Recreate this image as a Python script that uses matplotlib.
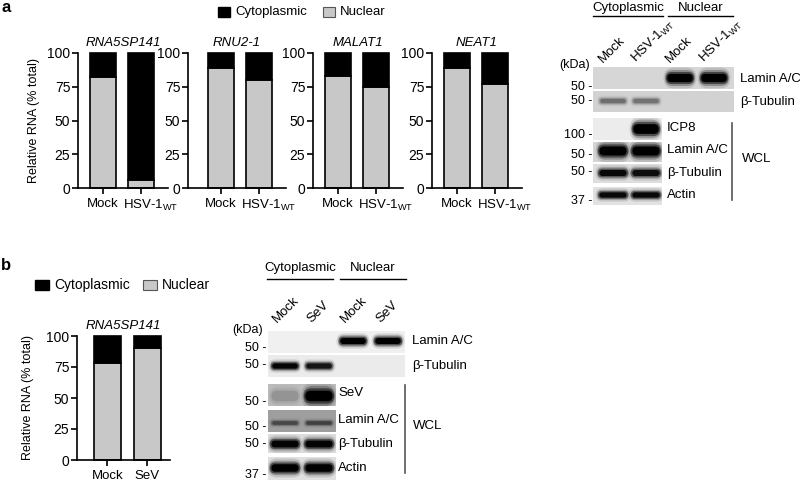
import numpy as np
import matplotlib
matplotlib.use('Agg')
import matplotlib.pyplot as plt
from matplotlib.patches import Rectangle, FancyBboxPatch
from matplotlib.transforms import ScaledTranslation

plt.rcParams['font.family'] = ['Liberation Sans', 'DejaVu Sans']
plt.rcParams['mathtext.default'] = 'regular'

# ---- bar chart data (% nuclear; cytoplasmic = 100 - nuclear) ----
genes_a = ['RNA5SP141', 'RNU2-1', 'MALAT1', 'NEAT1']
groups_a = ['Mock', 'HSV-1$_{WT}$']
nuclear_a = [[82, 6], [89, 80], [83, 75], [89, 77]]

gene_b = 'RNA5SP141'
groups_b = ['Mock', 'SeV']
nuclear_b = [78, 90]

# ---- western blot band intensities (0 = none, 1 = saturated) ----
lanes_a = ['Mock', 'HSV-1$_{WT}$', 'Mock', 'HSV-1$_{WT}$']
frac_lamin_a = [0, 0, 1, 1]
frac_tub_a = [0.3, 0.28, 0, 0]
wcl_icp8_a = [0, 1]
wcl_lamin_a = [1, 1]
wcl_tub_a = [0.9, 0.85]
wcl_actin_a = [0.9, 0.9]

lanes_b = ['Mock', 'SeV', 'Mock', 'SeV']
frac_lamin_b = [0, 0, 1, 1]
frac_tub_b = [0.95, 0.8, 0, 0]
wcl_sev_b = [0.12, 1]
wcl_lamin_b = [0.35, 0.4]
wcl_tub_b = [0.95, 0.95]
wcl_actin_b = [1, 1]

W, H = 800, 482
fig = plt.figure(figsize=(8, 4.82), dpi=100)

# overlay in pixel coordinates for blots and annotations
ov = fig.add_axes([0, 0, 1, 1])
ov.set_xlim(0, W)
ov.set_ylim(H, 0)
ov.axis('off')

NUC = '#c8c8c8'


def px_axes(x0, y0, x1, y1):
    return fig.add_axes([x0 / W, 1 - y1 / H, (x1 - x0) / W, (y1 - y0) / H])


def bar_panel(ax, nuc, groups, title, xlim):
    x = np.arange(len(nuc))
    cyto = [100 - v for v in nuc]
    ax.bar(x, nuc, 0.68, color=NUC, edgecolor='black', lw=1.2, clip_on=False)
    ax.bar(x, cyto, 0.68, bottom=nuc, color='black', edgecolor='black', lw=1.2, clip_on=False)
    ax.set_xlim(*xlim)
    ax.set_ylim(0, 100)
    ax.set_yticks([0, 25, 50, 75, 100])
    ax.set_xticks(x)
    ax.set_xticklabels(groups, fontsize=9.5)
    ax.tick_params(axis='y', labelsize=10, length=4, width=1.2, pad=1.5)
    ax.tick_params(axis='x', length=4, width=1.2, pad=3)
    for s in ['top', 'right']:
        ax.spines[s].set_visible(False)
    for s in ['left', 'bottom']:
        ax.spines[s].set_linewidth(1.2)
    ax.set_title(title, style='italic', fontsize=9.5, pad=5)
    ax.patch.set_alpha(0)
    # subscripted labels sit a little right of their tick
    for lab in ax.get_xticklabels():
        if 'WT' in lab.get_text():
            lab.set_transform(lab.get_transform() + ScaledTranslation(0.1, 0, fig.dpi_scale_trans))


# ---- panel a bar charts ----
boxes_a = [(78, 168, (-0.66, 1.71)), (188, 286, (-0.87, 1.71)),
           (313, 403, (-0.66, 1.71)), (432, 522, (-0.66, 1.71))]
for i, (x0, x1, xl) in enumerate(boxes_a):
    ax = px_axes(x0, 53, x1, 188)
    bar_panel(ax, nuclear_a[i], groups_a, genes_a[i], xl)
    if i == 0:
        ax.set_ylabel('Relative RNA (% total)', fontsize=9)
        ax.yaxis.set_label_coords(-0.42, 0.5)

# ---- panel b bar chart ----
axb = px_axes(77, 336, 170, 460)
bar_panel(axb, nuclear_b, groups_b, gene_b, (-0.76, 1.565))
axb.set_ylabel('Relative RNA (% total)', fontsize=9)
axb.yaxis.set_label_coords(-0.46, 0.5)

# ---- panel letters and legends ----
ov.text(1, 0, 'a', fontsize=12, fontweight='bold', va='top', ha='left')
ov.text(1, 258, 'b', fontsize=12, fontweight='bold', va='top', ha='left')


def legend(x_black, x_gray, y, size, fs):
    ov.add_patch(Rectangle((x_black, y - size[1] / 2), size[0], size[1], color='black'))
    ov.text(x_black + size[0] + 5, y, 'Cytoplasmic', fontsize=fs, va='center')
    ov.add_patch(Rectangle((x_gray, y - size[1] / 2), size[0], size[1],
                           facecolor=NUC, edgecolor='#555555', lw=0.8))
    ov.text(x_gray + size[0] + 5, y, 'Nuclear', fontsize=fs, va='center')


legend(218, 323, 12, (12, 10), 9.5)
legend(35, 143, 285, (14, 10), 10)


# ---- western blots ----
def blot(x0, x1, y0, y1, bg, lanes, intens, by, bh, bw):
    rect = Rectangle((x0, y0), x1 - x0, y1 - y0, facecolor=bg, lw=0)
    ov.add_patch(rect)
    for cx, v in zip(lanes, intens):
        if v <= 0:
            continue
        for sw, sh, a in [(1.1, 1.9, 0.12), (1.0, 1.45, 0.25), (0.95, 1.1, 0.5), (0.85, 0.75, 1.0)]:
            w, h = bw * sw, bh * sh
            p = FancyBboxPatch((cx - w / 2, by - h / 2), w, h,
                               boxstyle='round,pad=0,rounding_size=%f' % (h / 2),
                               facecolor='black', alpha=min(1, a * v), lw=0)
            ov.add_patch(p)
            p.set_clip_path(rect)


def kda(x, y, s):
    ov.text(x, y, s, fontsize=9, ha='right', va='center')


# panel a blots
la = [613, 646, 680, 714]
ov.text(628, 8, 'Cytoplasmic', fontsize=9.5, ha='center', va='center')
ov.text(701, 8, 'Nuclear', fontsize=9.5, ha='center', va='center')
ov.plot([593, 663], [16, 16], color='black', lw=1)
ov.plot([668, 733], [16, 16], color='black', lw=1)
for cx, lab in zip(la, lanes_a):
    ov.text(cx - 10, 63, lab, fontsize=9.5, rotation=45, rotation_mode='anchor',
            ha='left', va='baseline')

blot(593, 734, 67, 89, '#d6d6d6', la, frac_lamin_a, 78, 11, 30)
blot(593, 734, 91, 112, '#d2d2d2', la, frac_tub_a, 101, 6, 30)
blot(593, 662, 118, 140, '#ececec', la[:2], wcl_icp8_a, 129, 13, 30)
blot(593, 662, 142, 162, '#d4d4d4', la[:2], wcl_lamin_a, 151, 12, 32)
blot(593, 662, 164, 183, '#dedede', la[:2], wcl_tub_a, 173, 8, 32)
blot(593, 662, 187, 205, '#e2e2e2', la[:2], wcl_actin_a, 195, 7, 32)

kda(590, 65, '(kDa)')
for y, s in [(87, '50 -'), (101, '50 -'), (135, '100 -'), (155, '50 -'),
             (172, '50 -'), (201, '37 -')]:
    kda(592, y, s)
ov.text(740, 79, 'Lamin A/C', fontsize=9.5, va='center')
ov.text(740, 102, '\u03b2-Tubulin', fontsize=9.5, va='center')
for y, s in [(128, 'ICP8'), (150, 'Lamin A/C'), (173, '\u03b2-Tubulin'), (195, 'Actin')]:
    ov.text(667, y, s, fontsize=9.5, va='center')
ov.plot([732, 732], [123, 200], color='#555555', lw=1.2)
ov.text(742, 159, 'WCL', fontsize=9.5, va='center')

# panel b blots
lb = [285, 319, 353, 388]
ov.text(300, 268, 'Cytoplasmic', fontsize=9.5, ha='center', va='center')
ov.text(373, 268, 'Nuclear', fontsize=9.5, ha='center', va='center')
ov.plot([267, 333], [279, 279], color='black', lw=1)
ov.plot([340, 406], [279, 279], color='black', lw=1)
for cx, lab in zip(lb, lanes_b):
    ov.text(cx - 8, 323, lab, fontsize=9.5, rotation=45, rotation_mode='anchor',
            ha='left', va='baseline')

blot(268, 405, 331, 353, '#f0f0f0', lb, frac_lamin_b, 341, 8, 30)
blot(268, 405, 355, 377, '#ebebeb', lb, frac_tub_b, 366, 7, 30)
blot(268, 336, 384, 406, '#bdbdbd', lb[:2], wcl_sev_b, 396, 14, 32)
blot(268, 336, 410, 432, '#9e9e9e', lb[:2], wcl_lamin_b, 423, 5, 30)
blot(268, 336, 434, 453, '#dcdcdc', lb[:2], wcl_tub_b, 444, 9, 32)
blot(268, 336, 457, 480, '#e0e0e0', lb[:2], wcl_actin_b, 468, 10, 32)

kda(263, 330, '(kDa)')
for y, s in [(348, '50 -'), (365, '50 -'), (402, '50 -'), (427, '50 -'),
             (444, '50 -'), (475, '37 -')]:
    kda(266, y, s)
ov.text(412, 341, 'Lamin A/C', fontsize=9.5, va='center')
ov.text(412, 366, '\u03b2-Tubulin', fontsize=9.5, va='center')
for y, s in [(393, 'SeV'), (420, 'Lamin A/C'), (444, '\u03b2-Tubulin'), (468, 'Actin')]:
    ov.text(338, y, s, fontsize=9.5, va='center')
ov.plot([405, 405], [385, 473], color='#555555', lw=1.2)
ov.text(413, 426, 'WCL', fontsize=9.5, va='center')

fig.savefig('out.png', dpi=100)
